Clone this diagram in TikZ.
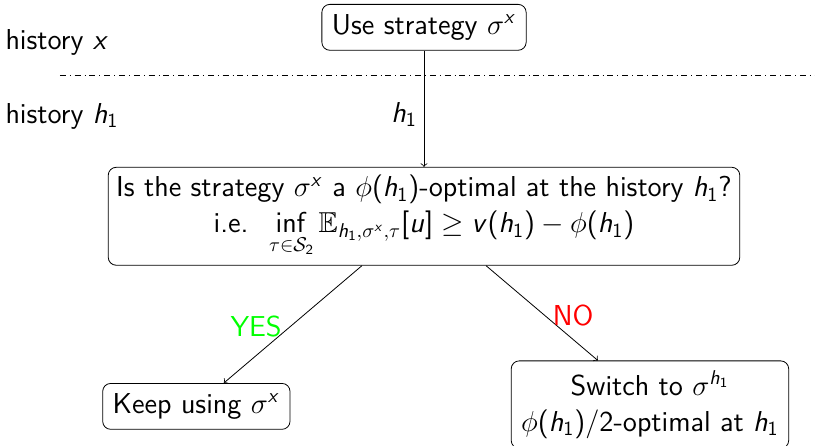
\documentclass[tikz,border=0pt]{standalone}
\usepackage{amssymb}
\usepackage{tikz}
\renewcommand{\familydefault}{\sfdefault}
\DeclareSymbolFont{operators}{OT1}{cmss}{m}{n}
\DeclareSymbolFont{sfletters}{OT1}{cmss}{m}{sl}
\DeclareMathSymbol{h}{\mathalpha}{sfletters}{`h}
\DeclareMathSymbol{x}{\mathalpha}{sfletters}{`x}
\DeclareMathSymbol{u}{\mathalpha}{sfletters}{`u}
\DeclareMathSymbol{v}{\mathalpha}{sfletters}{`v}

\begin{document}
\begin{tikzpicture}[box/.style={draw, rounded corners, inner sep=5pt}, every node/.style={font=\Large}]
        \useasboundingbox (0,0) rectangle (14.32,-7.82);
        \node [box] (use) at (7.45,-0.48) {Use strategy $\sigma^x$};
        \node [anchor=west, inner sep=0pt] (histx) at (0.09,-0.74) {history $x$};
        \node [anchor=west, inner sep=0pt] (histh) at (0.09,-2.04) {history $h_1$};
        \coordinate (sepl) at (1.05,-1.32);
        \coordinate (sepr) at (14.32,-1.32);
        \draw [dash dot] (sepl) -- (sepr);
        \node [box, inner sep=4pt, align=center] (check) at (7.45,-3.80) {Is the strategy $\sigma^x$ a $\phi(h_1)$-optimal at the history $h_1$?\\ i.e. $\;\displaystyle\inf_{\tau\in\mathcal{S}_2} \mathbb{E}_{h_1,\sigma^x,\tau}[u] \geq v(h_1)-\phi(h_1)$};
        \node [box] (keep) at (3.45,-7.14) {Keep using $\sigma^x$};
        \node [box, align=center] (switch) at (11.42,-7.11) {Switch to $\sigma^{h_1}$\\ $\phi(h_1)/2$-optimal at $h_1$};
        \draw [->] (use.south) -- node [left, pos=0.55] {$h_1$} (use.south |- check.north);
        \draw [->] ([xshift=-1.09cm]check.south) -- (keep);
        \draw [->] ([xshift=1.09cm]check.south) -- (switch);
        \node [color=green] (yes) at (4.50,-5.73) {YES};
        \node [color=red] (no) at (10.07,-5.55) {NO};
        \end{tikzpicture}
\end{document}
